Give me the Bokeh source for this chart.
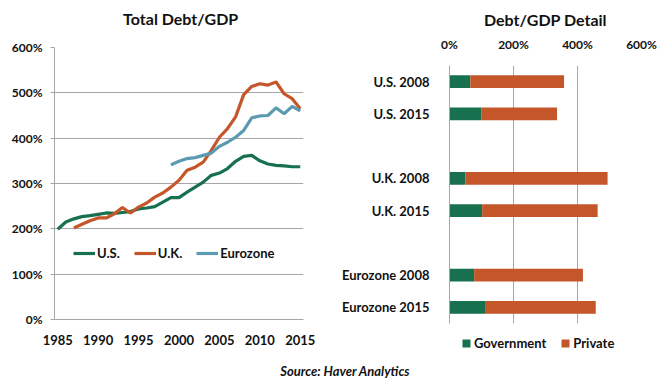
from bokeh.plotting import figure
from bokeh.layouts import column, row
from bokeh.models import (FactorRange, Legend, LegendItem, FixedTicker, PrintfTickFormatter,
                          ColumnDataSource, Range1d)
from bokeh.core.properties import value
from bokeh.embed import file_html
from bokeh.resources import INLINE

FONT = "Lato"
GREEN = "#17704e"
ORANGE = "#c5562a"
BLUE = "#5b9ab2"
GRID = "#a6a6a6"
TXT = "#111111"

# ---- Left chart data (Total Debt/GDP, % of GDP) ----
us_years = list(range(1985, 2016))
us_vals = [199, 215, 222, 227, 229, 232, 235, 234, 236, 238, 244, 246, 249, 259, 269, 269,
           281, 292, 303, 318, 323, 333, 349, 360, 362, 350, 343, 340, 339, 337, 337]
uk_years = list(range(1987, 2016))
uk_vals = [202, 210, 218, 224, 224, 233, 247, 235, 248, 257, 270, 279, 292, 307,
           329, 336, 347, 373, 402, 421, 447, 496, 514, 520, 517, 524, 498, 487, 465]
ez_years = list(range(1999, 2016))
ez_vals = [341, 349, 355, 357, 362, 367, 382, 391, 402, 417, 445, 449, 450, 467, 454, 470, 460]
x_ticks = [1985, 1990, 1995, 2000, 2005, 2010, 2015]
y_ticks = [0, 100, 200, 300, 400, 500, 600]

# ---- Right chart data (Debt/GDP Detail) ----
categories = ["U.S. 2008", "U.S. 2015", " ", "U.K. 2008", "U.K. 2015", "  ",
              "Eurozone 2008", "Eurozone 2015"]
government = [65, 99, 0, 50, 102, 0, 77, 111]
private = [293, 237, 0, 444, 361, 0, 340, 346]
detail_ticks = [0, 200, 400, 600]


def style_axis(ax, size="12px"):
    ax.major_label_text_font = FONT
    ax.major_label_text_font_size = size
    ax.major_label_text_font_style = "bold"
    ax.major_label_text_color = TXT
    ax.minor_tick_line_color = None


def legend_style():
    return dict(orientation="horizontal", background_fill_alpha=0, border_line_color=None,
                label_text_font=FONT, label_text_font_size="13px",
                label_text_font_style="bold", label_text_color=TXT, padding=2, spacing=14,
                inactive_fill_alpha=0)


def text_strip(width, height, text, x, y, size, style):
    f = figure(width=width, height=height, output_backend="svg", toolbar_location=None,
               x_range=Range1d(0, 1), y_range=Range1d(0, 1), min_border=0, frame_align=False)
    f.axis.visible = False
    f.grid.visible = False
    f.outline_line_color = None
    f.text(x=[x], y=[y], text=[text], text_font=value(FONT), text_font_size=size,
           text_font_style=style, text_color=TXT, text_align="center", text_baseline="middle")
    return f


# ================= Left title strip =================
pt1 = text_strip(338, 35, "Total Debt/GDP", 0.533, 0.5, "16px", "bold")

# ================= Left figure =================
p1 = figure(width=338, height=323, output_backend="svg", toolbar_location=None,
            x_range=Range1d(1984.6, 2015.4), y_range=Range1d(0, 600),
            min_border_left=54, min_border_right=35, min_border_top=12, min_border_bottom=39,
            frame_align=False)
p1.outline_line_color = None

l_us = p1.line(us_years, us_vals, line_color=GREEN, line_width=3.2)
l_uk = p1.line(uk_years, uk_vals, line_color=ORANGE, line_width=3.2)
l_ez = p1.line(ez_years, ez_vals, line_color=BLUE, line_width=3.2)

p1.xaxis.ticker = FixedTicker(ticks=x_ticks)
p1.yaxis.ticker = FixedTicker(ticks=y_ticks)
p1.yaxis.formatter = PrintfTickFormatter(format="%d%%")
style_axis(p1.xaxis[0], "13px")
style_axis(p1.yaxis[0])
p1.axis.axis_line_color = GRID
p1.axis.major_tick_line_color = GRID
p1.yaxis.major_tick_out = 4
p1.yaxis.major_tick_in = 0
p1.yaxis.major_label_standoff = 8
p1.xaxis.major_tick_line_color = None
p1.xaxis.major_label_standoff = 9
p1.xgrid.grid_line_color = None
p1.ygrid.grid_line_color = GRID

leg1 = Legend(items=[LegendItem(label="U.S.", renderers=[l_us]),
                     LegendItem(label="U.K.", renderers=[l_uk]),
                     LegendItem(label="Eurozone", renderers=[l_ez])],
              location=(19, 58), glyph_width=22, glyph_height=14, label_standoff=2,
              **legend_style())
p1.add_layout(leg1)

# ================= Right figure =================
p2 = figure(width=334, height=330, output_backend="svg", toolbar_location=None,
            x_range=Range1d(0, 600), y_range=FactorRange(factors=categories[::-1], range_padding=0),
            x_axis_location="above",
            min_border_left=109, min_border_right=31, min_border_top=65, min_border_bottom=7,
            frame_align=False)
p2.title.text = "Debt/GDP Detail"
p2.title.align = "center"
p2.title.text_font = FONT
p2.title.text_font_size = "16px"
p2.title.text_font_style = "bold"
p2.title.text_color = TXT
p2.outline_line_color = None

src = ColumnDataSource(dict(cat=categories, Government=government, Private=private))
rs = p2.hbar_stack(["Government", "Private"], y="cat", height=0.4, source=src,
                   color=[GREEN, ORANGE], line_color=None)

p2.xaxis.ticker = FixedTicker(ticks=detail_ticks)
p2.xaxis.formatter = PrintfTickFormatter(format="%d%%")
style_axis(p2.xaxis[0])
style_axis(p2.yaxis[0], "13px")
p2.xaxis.axis_line_color = None
p2.xaxis.major_tick_line_color = None
p2.xaxis.major_label_standoff = 8
p2.yaxis.axis_line_color = GRID
p2.yaxis.major_tick_line_color = None
p2.yaxis.major_label_standoff = 14
p2.ygrid.grid_line_color = None
p2.xgrid.grid_line_color = GRID

# ---- legend strip under the right chart (same stacked series, hidden) ----
pleg = figure(width=334, height=28, output_backend="svg", toolbar_location=None,
              x_range=Range1d(0, 600), y_range=FactorRange(factors=categories[::-1]),
              min_border=0, frame_align=False)
pleg.axis.visible = False
pleg.grid.visible = False
pleg.outline_line_color = None
rs_leg = pleg.hbar_stack(["Government", "Private"], y="cat", height=0.4, source=src,
                         color=[GREEN, ORANGE], line_color=None)
for r in rs_leg:
    r.visible = False
leg2 = Legend(items=[LegendItem(label="Government", renderers=[rs_leg[0]]),
                     LegendItem(label="Private", renderers=[rs_leg[1]])],
              location=(123, 7), glyph_width=10, glyph_height=10, label_standoff=3,
              **legend_style())
pleg.add_layout(leg2)

# ================= Source line =================
p3 = text_strip(672, 28, "Source: Haver Analytics", 0.513, 0.57, "13px", "bold italic")

layout = column(row(column(pt1, p1), column(p2, pleg)), p3)
open("out.html", "w").write(file_html(layout, INLINE))
